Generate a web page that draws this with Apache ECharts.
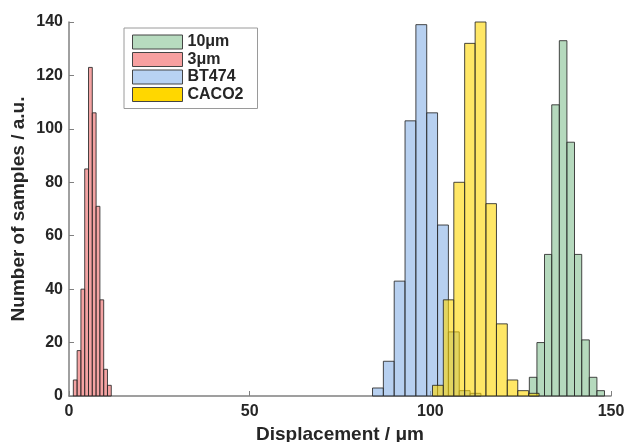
<!DOCTYPE html>
<html>
<head>
<meta charset="utf-8">
<script src="https://cdn.jsdelivr.net/npm/echarts@6/dist/echarts.min.js"></script>
<style>
  html, body { margin: 0; padding: 0; background: #fff; }
  #chart { width: 627px; height: 442px; }
</style>
</head>
<body>
<div id="chart"></div>
<script>
// bin edges (um) and counts for each histogram
var greenEdges = [127.4, 129.5, 131.6, 133.6, 135.7, 137.8, 139.9, 141.9, 144.0, 146.1, 148.2];
var greenCounts = [7, 20, 53, 109, 133, 95, 53, 21, 7, 2];

var redEdges = [1.2, 2.25, 3.3, 4.35, 5.4, 6.45, 7.5, 8.55, 9.6, 10.65, 11.7];
var redCounts = [6, 17, 40, 85, 123, 106, 71, 36, 10, 4];

var blueEdges = [84, 87, 90, 93, 96, 99, 102, 105, 108, 111, 114];
var blueCounts = [3, 13, 43, 103, 139, 106, 64, 24, 2, 1];

var yellowEdges = [100.6, 103.6, 106.5, 109.5, 112.4, 115.4, 118.3, 121.3, 124.2, 127.2, 130.1];
var yellowCounts = [4, 36, 80, 132, 140, 72, 27, 6, 2, 1];

var xTicks = [0, 50, 100, 150];
var yTicks = [0, 20, 40, 60, 80, 100, 120, 140];

var chart = echarts.init(document.getElementById('chart'));

function toBins(edges, counts) {
	var out = [];
	for (var i = 0; i < counts.length; i++) {
		out.push([edges[i], edges[i + 1], counts[i]]);
	}
	return out;
}

function histSeries(name, edges, counts, fill, z) {
	return {
		name: name,
		type: 'custom',
		z: z,
		itemStyle: { color: fill, borderColor: '#3a3a3a', borderWidth: 1 },
		encode: { x: [0, 1], y: 2 },
		data: toBins(edges, counts),
		renderItem: function(params, api) {
			var p0 = api.coord([api.value(0), api.value(2)]);
			var p1 = api.coord([api.value(1), 0]);
			return {
				type: 'rect',
				shape: { x: p0[0], y: p0[1], width: p1[0] - p0[0], height: p1[1] - p0[1] },
				style: { fill: fill, stroke: 'rgba(40,40,40,0.85)', lineWidth: 1 }
			};
		}
	};
}

var labelFont = 'Liberation Sans, Arial, sans-serif';

var option = {
	animation: false,
	backgroundColor: '#fff',
	grid: { left: 69, right: 16, top: 22, bottom: 46, containLabel: false, outerBoundsMode: 'none' },
	legend: {
		orient: 'vertical',
		left: 124,
		top: 28,
		padding: [6, 14, 6, 8],
		itemGap: 1.5,
		itemWidth: 50,
		itemHeight: 14,
		borderColor: '#9a9a9a',
		borderWidth: 1,
		icon: 'rect',
		textStyle: { fontFamily: labelFont, fontWeight: 'bold', fontSize: 16, lineHeight: 16, color: '#262626' },
		data: [
			{ name: '10μm', itemStyle: { color: '#b7dbbf', borderColor: '#444', borderWidth: 1 } },
			{ name: '3μm', itemStyle: { color: '#f7a0a0', borderColor: '#444', borderWidth: 1 } },
			{ name: 'BT474', itemStyle: { color: '#b8d2f2', borderColor: '#444', borderWidth: 1 } },
			{ name: 'CACO2', itemStyle: { color: '#ffd700', borderColor: '#444', borderWidth: 1 } }
		]
	},
	xAxis: {
		type: 'value',
		min: 0,
		max: 150,
		interval: 50,
		name: 'Displacement / μm',
		nameLocation: 'middle',
		nameGap: 29,
		nameMoveOverlap: false,
		nameTextStyle: { fontFamily: labelFont, fontWeight: 'bold', fontSize: 19, color: '#262626' },
		axisLine: { lineStyle: { color: '#808080', width: 1.5 } },
		axisTick: { inside: true, length: 5, lineStyle: { color: '#808080' } },
		axisLabel: {
			fontFamily: labelFont, fontWeight: 'bold', fontSize: 16, color: '#262626', margin: 8,
			formatter: function(v) { return xTicks.indexOf(v) >= 0 ? String(v) : ''; }
		},
		splitLine: { show: false }
	},
	yAxis: {
		type: 'value',
		min: 0,
		max: 140,
		interval: 20,
		name: 'Number of samples / a.u.',
		nameLocation: 'middle',
		nameGap: 41,
		nameMoveOverlap: false,
		nameTextStyle: { fontFamily: labelFont, fontWeight: 'bold', fontSize: 19, color: '#262626' },
		axisLine: { show: true, lineStyle: { color: '#808080', width: 1.5 } },
		axisTick: { show: true, inside: true, length: 5, lineStyle: { color: '#808080' } },
		axisLabel: {
			fontFamily: labelFont, fontWeight: 'bold', fontSize: 16, color: '#262626', margin: 6,
			formatter: function(v) { return yTicks.indexOf(v) >= 0 ? String(v) : ''; }
		},
		splitLine: { show: false }
	},
	series: [
		histSeries('10μm', greenEdges, greenCounts, 'rgba(132,192,145,0.6)', 2),
		histSeries('3μm', redEdges, redCounts, 'rgba(237,102,102,0.6)', 3),
		histSeries('BT474', blueEdges, blueCounts, 'rgba(135,177,230,0.6)', 4),
		histSeries('CACO2', yellowEdges, yellowCounts, 'rgba(255,215,0,0.6)', 5)
	]
};

chart.setOption(option);
</script>
</body>
</html>
